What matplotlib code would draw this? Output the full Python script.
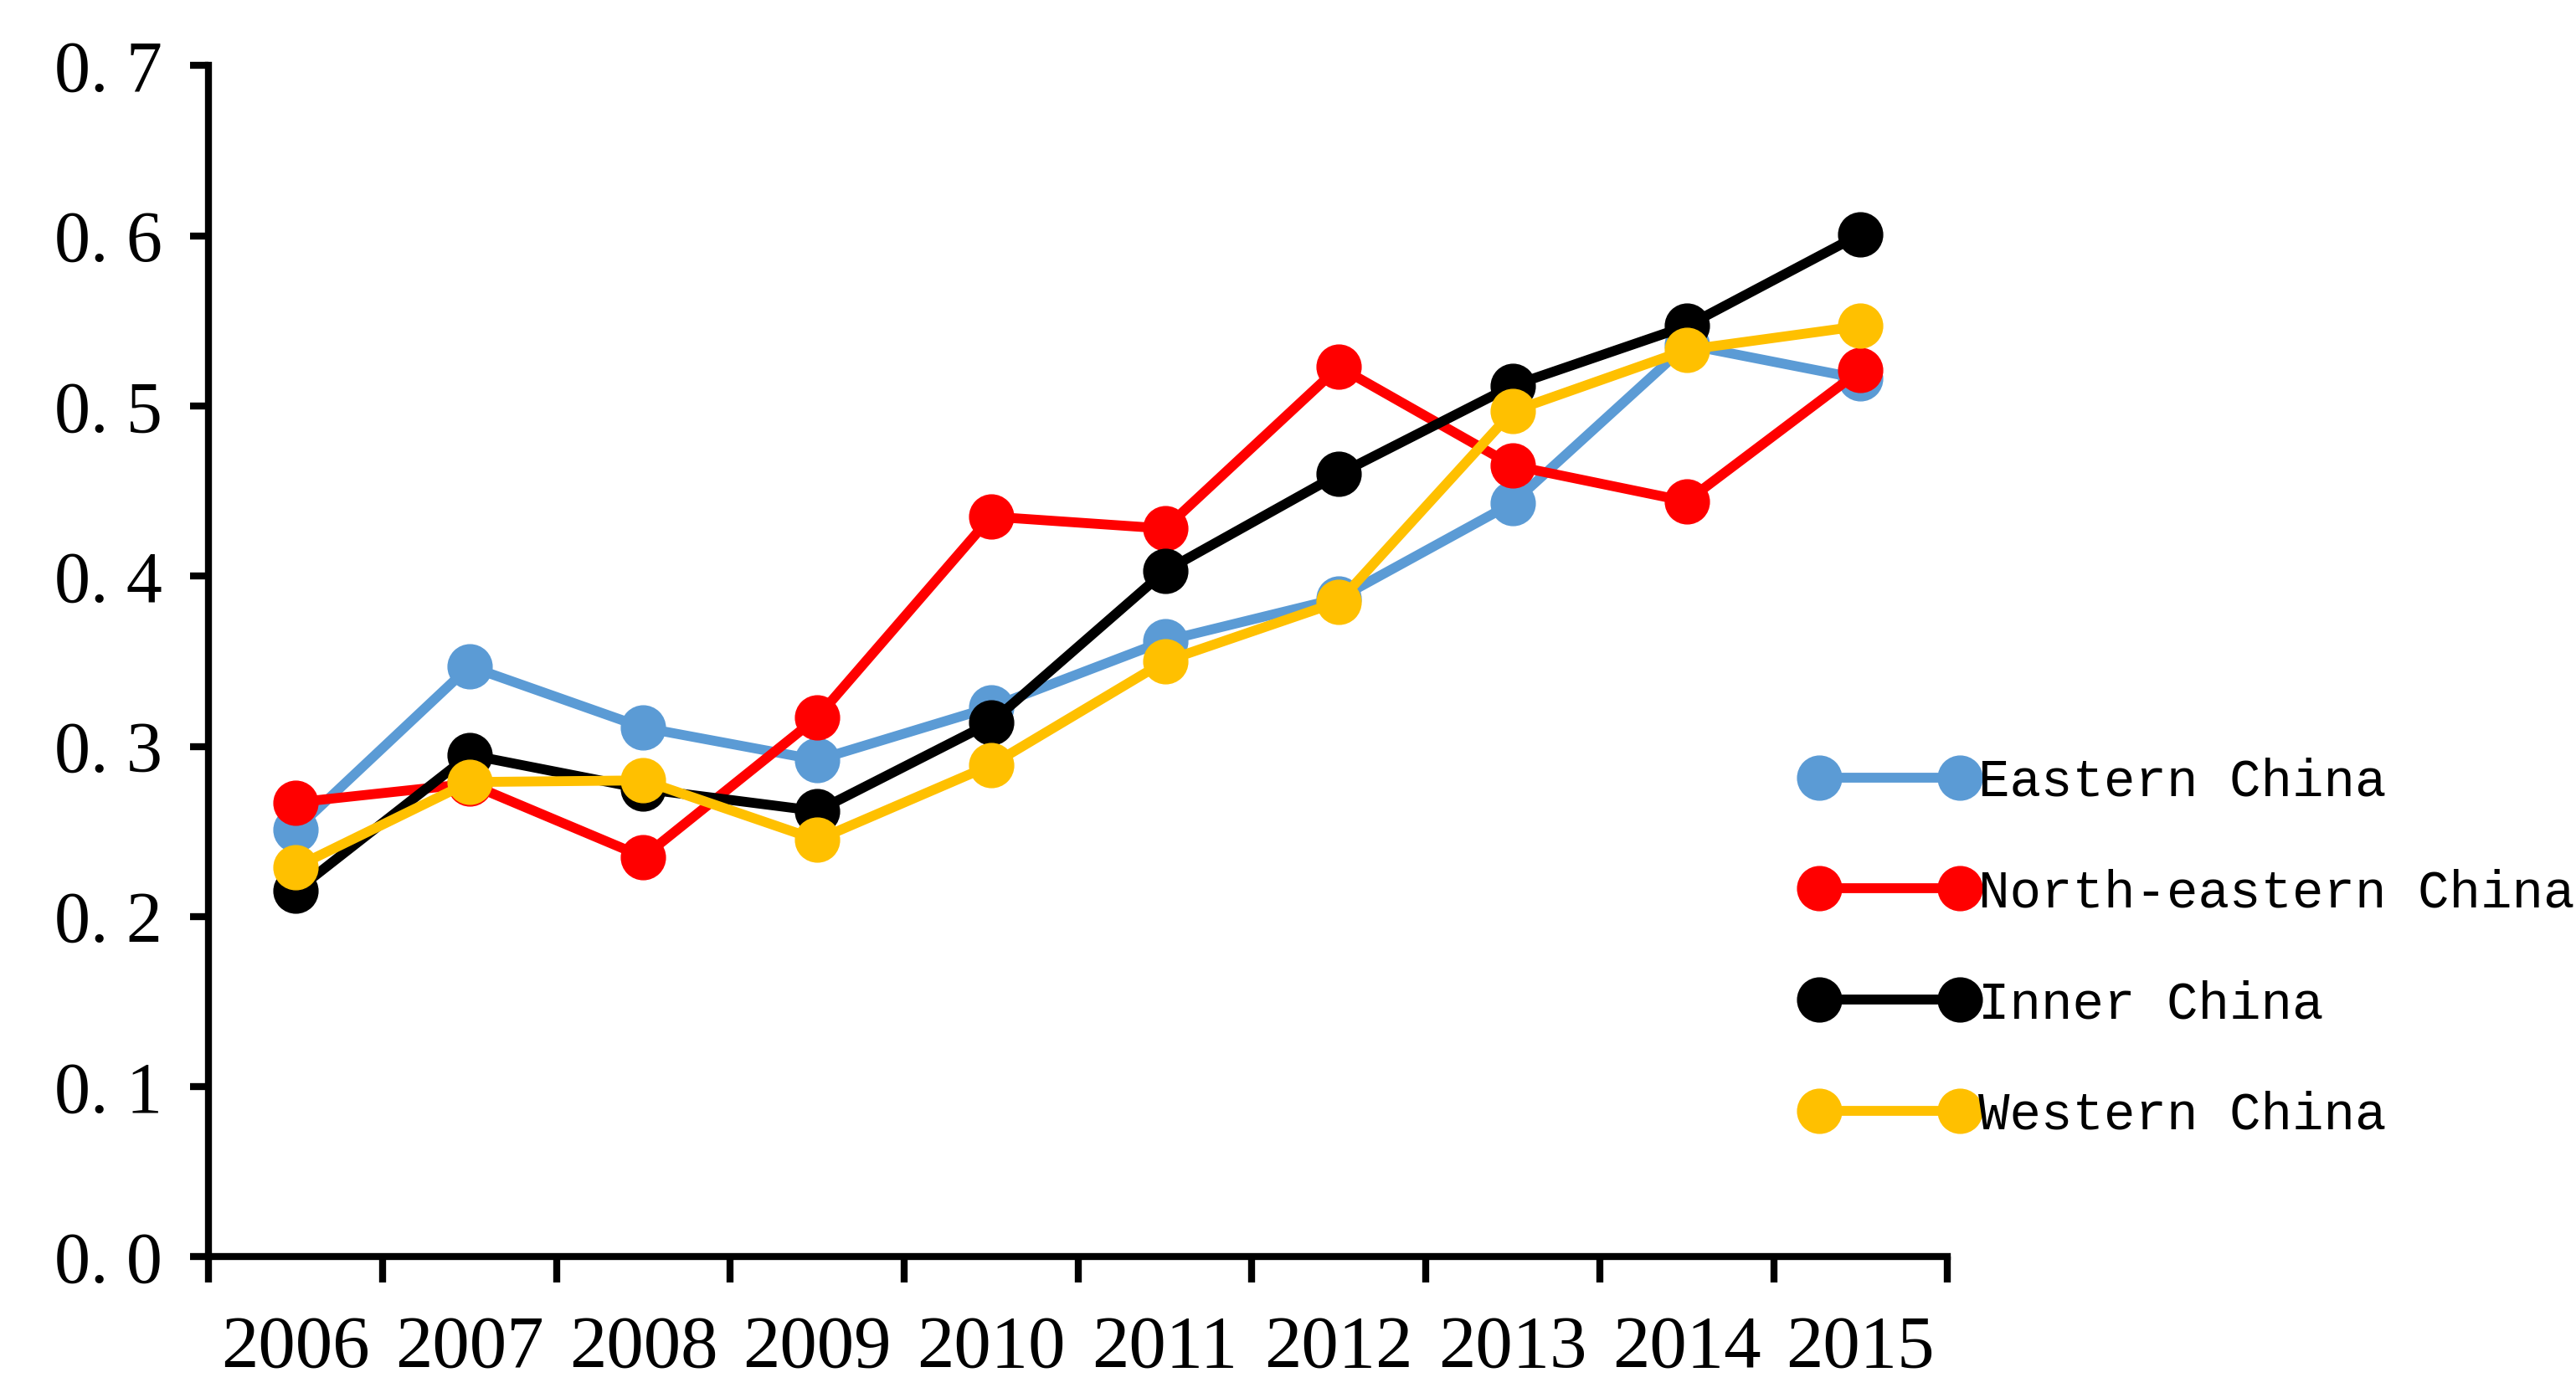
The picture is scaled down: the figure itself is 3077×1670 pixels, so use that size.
import numpy as np
import matplotlib
matplotlib.use('Agg')
import matplotlib.pyplot as plt

# данные
years = ['2006', '2007', '2008', '2009', '2010', '2011', '2012', '2013', '2014', '2015']
eastern = [0.251, 0.347, 0.311, 0.292, 0.323, 0.362, 0.387, 0.443, 0.536, 0.516]
north_eastern = [0.267, 0.278, 0.235, 0.317, 0.435, 0.428, 0.523, 0.465, 0.444, 0.521]
inner = [0.215, 0.295, 0.275, 0.262, 0.314, 0.403, 0.460, 0.512, 0.547, 0.601]
western = [0.229, 0.279, 0.280, 0.245, 0.289, 0.350, 0.385, 0.497, 0.533, 0.547]
y_ticks = [0.0, 0.1, 0.2, 0.3, 0.4, 0.5, 0.6, 0.7]
y_tick_labels = ['0. 0', '0. 1', '0. 2', '0. 3', '0. 4', '0. 5', '0. 6', '0. 7']

series = [
    ('Eastern China', eastern, '#5B9BD5'),
    ('North-eastern China', north_eastern, '#FF0000'),
    ('Inner China', inner, '#000000'),
    ('Western China', western, '#FFC000'),
]

fig = plt.figure(figsize=(30.77, 16.70), dpi=100)
ax = fig.add_axes([0.081, 0.101, 0.675, 0.852])

x = np.arange(len(years)) + 0.5
for name, vals, col in series:
    ax.plot(x, vals, color=col, linewidth=8.5, marker='o', markersize=38,
            label=name, solid_capstyle='round')

# оси
ax.set_xlim(0, len(years))
ax.set_ylim(0, 0.7)
ax.set_xticks(np.arange(len(years) + 1))
ax.set_xticklabels([])
ax.set_xticks(x, minor=True)
ax.set_xticklabels(years, minor=True, family='Liberation Serif', fontsize=64)
ax.tick_params(axis='x', which='minor', length=0, pad=50)
ax.tick_params(axis='x', which='major', length=22, width=6, direction='out')
ax.set_yticks(y_ticks)
ax.set_yticklabels(y_tick_labels, family='Liberation Serif', fontsize=62)
ax.tick_params(axis='y', length=16, width=6, direction='out', pad=24)

for side in ['top', 'right']:
    ax.spines[side].set_visible(False)
for side in ['left', 'bottom']:
    ax.spines[side].set_linewidth(6)

# легенда
ax.legend(loc='upper left', bbox_to_anchor=(0.905, 0.437), frameon=False,
          numpoints=2, handlelength=3.3, handletextpad=0.05, labelspacing=1.18,
          borderaxespad=0, prop={'family': 'Liberation Mono', 'size': 45})

fig.savefig('out.png', dpi=100, facecolor='white')
